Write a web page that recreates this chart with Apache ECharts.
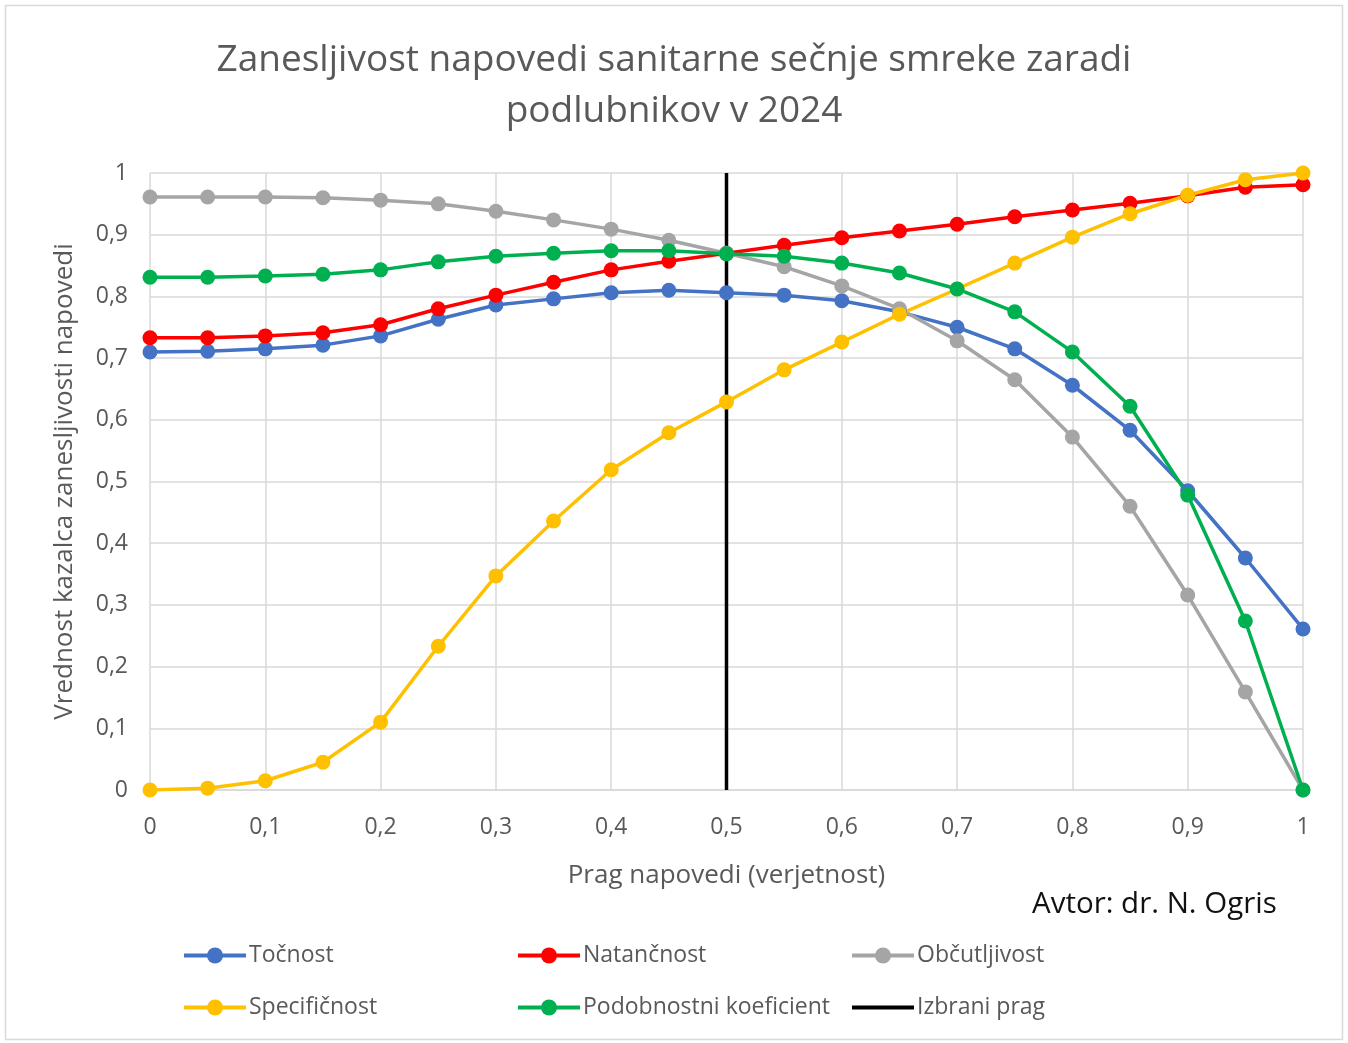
<!DOCTYPE html>
<html><head><meta charset="utf-8">
<script src="https://cdn.jsdelivr.net/npm/echarts@6/dist/echarts.min.js"></script>
<style>html,body{margin:0;padding:0;background:#fff}#c{width:1348px;height:1043px}</style>
</head><body><div id="c"></div>
<script>
const thresholds = [0,0.05,0.1,0.15,0.2,0.25,0.3,0.35,0.4,0.45,0.5,0.55,0.6,0.65,0.7,0.75,0.8,0.85,0.9,0.95,1];
const tocnost = [0.710,0.711,0.715,0.721,0.736,0.763,0.786,0.796,0.806,0.810,0.806,0.802,0.793,0.775,0.750,0.715,0.656,0.583,0.485,0.376,0.261];
const natancnost = [0.733,0.733,0.736,0.741,0.754,0.780,0.802,0.823,0.843,0.857,0.870,0.883,0.895,0.906,0.917,0.929,0.940,0.951,0.963,0.977,0.981];
const obcutljivost = [0.961,0.961,0.961,0.960,0.956,0.950,0.938,0.924,0.909,0.891,0.870,0.848,0.817,0.780,0.728,0.665,0.572,0.460,0.316,0.159,0.000];
const specificnost = [0.000,0.003,0.015,0.045,0.110,0.233,0.347,0.436,0.519,0.579,0.629,0.681,0.726,0.771,0.812,0.854,0.896,0.934,0.964,0.989,1.000];
const podobnostni = [0.831,0.831,0.833,0.836,0.843,0.856,0.865,0.870,0.874,0.874,0.869,0.865,0.854,0.838,0.812,0.775,0.710,0.622,0.478,0.274,0.000];
const izbraniPrag = [[0.5,0],[0.5,1]];
const seriesNames = ['Točnost','Natančnost','Občutljivost','Specifičnost','Podobnostni koeficient','Izbrani prag'];
const colors = ['#4472C4','#FF0000','#A5A5A5','#FFC000','#00B050','#000000'];

const font = 'Open Sans, Noto Sans, sans-serif';
const fmt = v => (Math.round(v*10)/10).toString().replace('.', ',');
const pair = arr => thresholds.map((x,i)=>[x,arr[i]]);
function lineSeries(name, arr, color){
  return {name, type:'line', data: pair(arr), symbol:'circle', symbolSize:15,
    lineStyle:{width:3.5,color}, itemStyle:{color}, z:3};
}
const legendLefts = [182,516,850];
const legendTops = [944,996];
const legends = seriesNames.map((n,i)=>{
  const last = i === 5;
  return {
    left: legendLefts[i%3], top: legendTops[Math.floor(i/3)],
    data:[last ? {name:n, itemStyle:{opacity:0}} : n],
    itemWidth:62, itemHeight:20, itemGap:0, padding:0,
    lineStyle:{width:4},
    textStyle:{fontFamily:font, fontSize:23, color:'#595959', padding:[0,0,0,-2]}
  };
});
const chart = echarts.init(document.getElementById('c'), null, {renderer:'canvas'});
chart.setOption({
  animation:false,
  backgroundColor:'#fff',
  color: colors,
  title:{text:'Zanesljivost napovedi sanitarne sečnje smreke zaradi\npodlubnikov v 2024', left:'center', top:30,
    textStyle:{fontFamily:font, fontSize:37, fontWeight:'normal', color:'#595959', lineHeight:51}},
  graphic:[
    {type:'rect', shape:{x:5.5,y:5.5,width:1337,height:1034}, style:{fill:'none', stroke:'#d9d9d9', lineWidth:1.5}, silent:true},
    {type:'text', left:1032, top:890, style:{text:'Avtor: dr. N. Ogris', font:'29.5px '+font, fill:'#111'}}
  ],
  legend: legends,
  grid:{left:150, right:45, top:173, bottom:253},
  xAxis:{type:'value', min:0, max:1, interval:0.1,
    name:'Prag napovedi (verjetnost)', nameLocation:'middle', nameGap:73,
    nameTextStyle:{fontFamily:font, fontSize:26, color:'#595959'},
    axisLine:{show:true, lineStyle:{color:'#d9d9d9', width:1.5}}, axisTick:{show:false},
    axisLabel:{formatter:fmt, fontFamily:font, fontSize:23, color:'#595959', margin:26},
    splitLine:{show:true, lineStyle:{color:'#d9d9d9', width:1.5}}},
  yAxis:{type:'value', min:0, max:1, interval:0.1,
    name:'Vrednost kazalca zanesljivosti napovedi', nameLocation:'middle', nameGap:72,
    nameTextStyle:{fontFamily:font, fontSize:26, color:'#595959'},
    axisLine:{show:false}, axisTick:{show:false},
    axisLabel:{formatter:fmt, fontFamily:font, fontSize:23, color:'#595959', margin:22},
    splitLine:{show:true, lineStyle:{color:'#d9d9d9', width:1.5}}},
  series:[
    lineSeries('Točnost', tocnost, colors[0]),
    lineSeries('Natančnost', natancnost, colors[1]),
    lineSeries('Občutljivost', obcutljivost, colors[2]),
    lineSeries('Specifičnost', specificnost, colors[3]),
    lineSeries('Podobnostni koeficient', podobnostni, colors[4]),
    {name:'Izbrani prag', type:'line', data:izbraniPrag, symbol:'none', showSymbol:false,
      lineStyle:{width:3.5,color:'#000'}, itemStyle:{color:'#000'}, z:2}
  ]
});
</script></body></html>
